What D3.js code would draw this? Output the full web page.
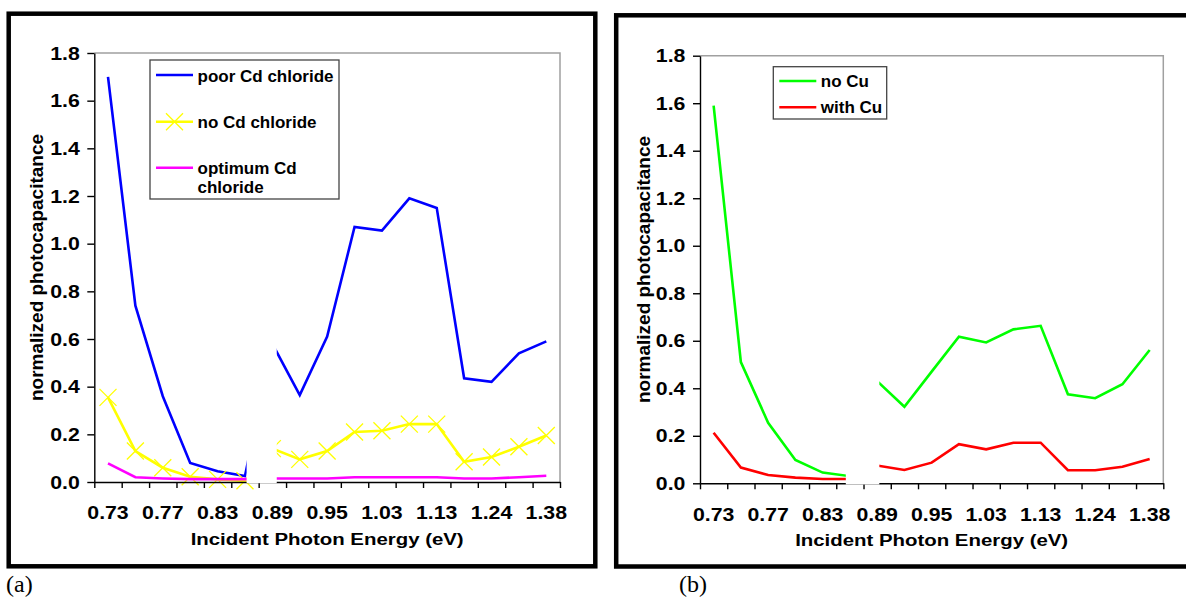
<!DOCTYPE html>
<html>
<head>
<meta charset="utf-8">
<script src="https://cdn.jsdelivr.net/npm/d3@7"></script>
<style>
  body { margin: 0; background: #fff; }
  svg text { font-family: "Liberation Sans", Arial, sans-serif; font-weight: bold; fill: #000; }
  svg text.letter { font-family: "Liberation Serif", "Times New Roman", serif; font-weight: normal; }
</style>
</head>
<body>
<svg id="chart"></svg>
<script>
// photon energies (eV) - only every other one gets a label on the axis
const energies = ["0.73","0.75","0.77","0.80","0.83","0.86","0.89","0.92","0.95","0.99","1.03","1.08","1.13","1.18","1.24","1.31","1.38"];
const yTicks = [0, 0.2, 0.4, 0.6, 0.8, 1.0, 1.2, 1.4, 1.6, 1.8];

// panel (a)
const poorCd = [1.70, 0.74, 0.36, 0.08, 0.045, 0.025, 0.58, 0.365, 0.61, 1.07, 1.055, 1.19, 1.15, 0.435, 0.42, 0.54, 0.59];
const noCd   = [0.355, 0.13, 0.06, 0.022, 0.011, 0.005, 0.14, 0.095, 0.13, 0.21, 0.215, 0.243, 0.243, 0.085, 0.105, 0.148, 0.195];
const optCd  = [0.078, 0.02, 0.015, 0.012, 0.012, 0.012, 0.015, 0.015, 0.015, 0.02, 0.02, 0.02, 0.02, 0.015, 0.015, 0.02, 0.026];

// panel (b)
const noCu   = [1.59, 0.51, 0.255, 0.098, 0.045, 0.03, 0.43, 0.322, 0.47, 0.617, 0.593, 0.648, 0.663, 0.375, 0.358, 0.417, 0.561];
const withCu = [0.213, 0.066, 0.035, 0.024, 0.018, 0.018, 0.075, 0.056, 0.087, 0.165, 0.143, 0.171, 0.171, 0.055, 0.055, 0.07, 0.102];

const svg = d3.select("#chart").attr("width", 1186).attr("height", 598);

// text that is a bit wider than the font (the original figure is stretched)
function wideText(parent, x, y, str, size, sx, anchor) {
  return parent.append("g")
      .attr("transform", `translate(${x},${y}) scale(${sx},1)`)
    .append("text")
      .attr("text-anchor", anchor || "start")
      .attr("font-size", size)
      .text(str);
}

function xMark(g, cx, cy, r, color) {
  g.append("path")
    .attr("d", `M${cx - r},${cy - r}L${cx + r},${cy + r}M${cx - r},${cy + r}L${cx + r},${cy - r}`)
    .attr("stroke", color).attr("stroke-width", 1.3).attr("fill", "none");
}

function drawPanel(cfg) {
  const g = svg.append("g");

  // outer frame
  g.append("rect")
    .attr("x", cfg.frame[0]).attr("y", cfg.frame[1])
    .attr("width", cfg.frame[2]).attr("height", cfg.frame[3])
    .attr("fill", "none").attr("stroke", "#000").attr("stroke-width", 4.5);

  const x = d3.scaleBand().domain(energies).range([cfg.left, cfg.right]).padding(0);
  const xIdx = d3.scaleLinear().domain([0, energies.length]).range([cfg.left, cfg.right]);
  const y = d3.scaleLinear().domain([0, 1.8]).range([cfg.bottom, cfg.top]);
  const cx = d => x(d) + x.bandwidth() / 2;

  // gray top / right border of plot area
  g.append("path")
    .attr("d", `M${cfg.left},${cfg.top}H${cfg.right}V${cfg.bottom}`)
    .attr("fill", "none").attr("stroke", "#a0a0a0").attr("stroke-width", 1.5);

  // series
  cfg.series.forEach(s => {
    const line = d3.line().x((d, i) => cx(energies[i])).y(d => y(d));
    g.append("path")
      .datum(s.values)
      .attr("d", line)
      .attr("fill", "none")
      .attr("stroke", s.color)
      .attr("stroke-width", 2.6)
      .attr("stroke-linejoin", "miter");
    if (s.marker) {
      s.values.forEach((v, i) => xMark(g, cx(energies[i]), y(v), 8.5, s.color));
    }
  });

  // axes
  const yAxis = g.append("g")
    .attr("transform", `translate(${cfg.left},0)`)
    .call(d3.axisLeft(y).tickValues(yTicks).tickFormat(d3.format(".1f")).tickSize(7).tickSizeOuter(0).tickPadding(6));
  yAxis.selectAll("text").attr("font-size", 19).attr("transform", "scale(1.12,1)");

  const xTickAxis = g.append("g")
    .attr("transform", `translate(0,${cfg.bottom})`)
    .call(d3.axisBottom(xIdx).tickValues(d3.range(energies.length + 1)).tickFormat("").tickSize(6).tickSizeOuter(0));

  const xLabelAxis = g.append("g")
    .attr("transform", `translate(0,${cfg.bottom})`)
    .call(d3.axisBottom(x).tickValues(energies.filter((d, i) => i % 2 === 0)).tickSize(0).tickPadding(24));
  xLabelAxis.select(".domain").remove();
  xLabelAxis.selectAll("text").attr("font-size", 19).attr("transform", "scale(1.12,1)");

  [yAxis, xTickAxis].forEach(a => {
    a.selectAll("path, line").attr("stroke", "#000").attr("stroke-width", 1.4);
  });

  // axis break: white block over the gap between 0.86 and 0.89
  g.append("rect")
    .attr("x", xIdx(cfg.gap[0]))
    .attr("y", y(1.72))
    .attr("width", xIdx(cfg.gap[1]) - xIdx(cfg.gap[0]))
    .attr("height", cfg.bottom + 1.2 - y(1.72))
    .attr("fill", "#fff");

  // axis titles
  wideText(g, (cfg.left + cfg.right) / 2, cfg.bottom + 62.5, "Incident Photon Energy (eV)", 17, 1.2, "middle");
  g.append("text")
    .attr("transform", `translate(${cfg.yTitleX},${(cfg.top + cfg.bottom) / 2}) rotate(-90)`)
    .attr("text-anchor", "middle")
    .attr("dy", "0.35em")
    .attr("font-size", 19)
    .text("normalized photocapacitance");

  // legend
  const L = cfg.legend;
  g.append("rect")
    .attr("x", L.box[0]).attr("y", L.box[1]).attr("width", L.box[2]).attr("height", L.box[3])
    .attr("fill", "#fff").attr("stroke", "#444").attr("stroke-width", 1.3);
  L.items.forEach(it => {
    const s = cfg.series[it.series];
    g.append("line")
      .attr("x1", L.box[0] + 6).attr("x2", L.box[0] + 43)
      .attr("y1", it.y).attr("y2", it.y)
      .attr("stroke", s.color).attr("stroke-width", 2.6);
    if (s.marker) xMark(g, L.box[0] + 24.5, it.y, 8.5, s.color);
    it.lines.forEach((t, k) => {
      g.append("text")
        .attr("x", L.box[0] + 47.5).attr("y", it.base + k * 19.3)
        .attr("font-size", 17)
        .text(t);
    });
  });

  // panel letter
  g.append("text")
    .attr("class", "letter")
    .attr("x", cfg.letterX).attr("y", 592)
    .attr("font-size", 24)
    .text(cfg.letter);
}

drawPanel({
  frame: [8.7, 13.7, 586.6, 552.6],
  left: 94.3, right: 560, top: 53, bottom: 482,
  gap: [5.56, 6.66],
  yTitleX: 36.7,
  series: [
    { values: poorCd, color: "#0000ff" },
    { values: noCd, color: "#ffff00", marker: true },
    { values: optCd, color: "#ff00ff" }
  ],
  legend: {
    box: [150, 60, 189, 139],
    items: [
      { series: 0, y: 75, base: 81.5, lines: ["poor Cd chloride"] },
      { series: 1, y: 121.7, base: 127.5, lines: ["no Cd chloride"] },
      { series: 2, y: 167.7, base: 174, lines: ["optimum Cd", "chloride"] }
    ]
  },
  letter: "(a)", letterX: 6
});

drawPanel({
  frame: [616.2, 15.3, 580, 551.2],
  left: 700, right: 1163.3, top: 55.7, bottom: 483.3,
  gap: [5.35, 6.58],
  yTitleX: 643,
  series: [
    { values: noCu, color: "#00ff00" },
    { values: withCu, color: "#ff0000" }
  ],
  legend: {
    box: [773.3, 66.7, 113.4, 52.3],
    items: [
      { series: 0, y: 81, base: 87, lines: ["no Cu"] },
      { series: 1, y: 107.3, base: 113, lines: ["with Cu"] }
    ]
  },
  letter: "(b)", letterX: 679
});
</script>
</body>
</html>
